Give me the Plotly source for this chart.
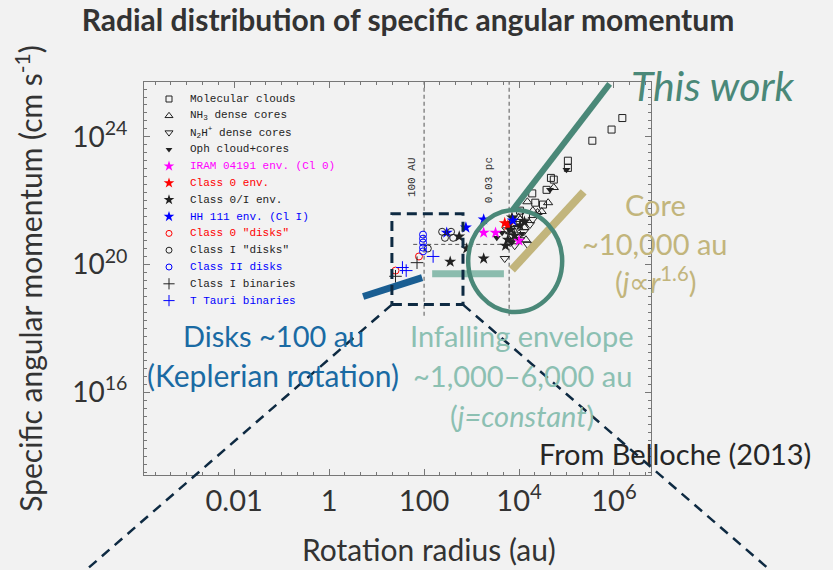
import numpy as np
import plotly.graph_objects as go

# ---------------- data ----------------
# rotation radius r (au) and specific angular momentum j (axis units)
mol_r = [1.5e6, 8.9e5, 3.5e5, 1.07e5, 1.07e5, 5.4e4, 4.7e4, 3.8e4, 1.9e4, 2.2e4, 1.05e4, 3.2e4, 1.4e4]
mol_j = [3.9e24, 1.7e24, 7.6e23, 1.8e23, 1.07e23, 4.6e22, 5.2e22, 2.2e22, 1.7e22, 8.7e21, 4.9e21, 7.6e21, 3.4e21]

nh3_r = [5.4e4, 4.1e4, 1.5e4, 3.0e4, 1.95e4, 2.45e4, 1.05e4, 8.1e3, 1.3e4, 6.5e3, 1.4e4, 8.9e3, 9.8e3]
nh3_j = [2.6e22, 8.7e21, 9.3e21, 4.6e21, 4.9e21, 4.3e21, 2.6e21, 1.8e21, 1.45e21, 1.07e21, 6.0e20, 8.1e20, 3.0e21]

n2h_r = [5.0e3, 8.1e3, 1.05e4, 6.5e3, 1.26e4, 7.4e3, 1.7e4, 5.5e3, 1.5e4, 9.3e3, 1.95e4]
n2h_j = [1.55e20, 3.9e20, 6.0e20, 4.9e20, 1.07e21, 7.6e20, 1.8e21, 1.23e21, 4.3e20, 1.45e21, 2.6e21]

oph_r = [1.0e5, 4.5e4, 3.4e3, 4.4e3, 6.2e3, 6.5e3, 7.8e3, 7.1e3, 1.15e4]
oph_j = [9.3e22, 2.2e22, 6.9e20, 1.0e21, 1.23e21, 2.0e21, 3.0e21, 4.9e20, 9.3e20]

iram_r = [1.8e3, 3.2e3, 1.0e4]
iram_j = [1.0e21, 1.0e21, 5.6e20]

c0env_r = [5.0e3, 5.8e3]
c0env_j = [2.0e21, 1.7e21]

c0Ienv_r = [550, 355, 1.8e3, 790, 6.8e3, 8.1e3, 5.8e3, 1.05e4, 5.2e3, 1.3e4, 7.1e3]
c0Ienv_j = [7.6e20, 1.23e20, 1.55e20, 3.2e20, 1.23e21, 8.1e20, 6.0e20, 1.7e21, 3.9e20, 2.2e21, 3.0e21]

hh111_r = [300, 760, 7.4e3, 1.8e3]
hh111_j = [1.0e21, 1.45e21, 2.4e21, 2.6e21]

c0disk_r = [25, 78]
c0disk_j = [6.5e19, 1.8e20]

cIdisk_r = [240, 370, 275, 410, 120]
cIdisk_j = [1.07e21, 1.07e21, 6.9e20, 6.9e20, 3.2e20]

cIIdisk_r = [95, 95, 95, 95, 95]
cIIdisk_j = [8.7e20, 6.5e20, 4.9e20, 3.4e20, 2.6e20]

cIbin_r = [25, 71]
cIbin_j = [4.3e19, 1.15e20]

ttbin_r = [35, 42, 155]
ttbin_j = [8.1e19, 6.5e19, 1.8e20]

# guide lines (r in au, j)
disk_bar_r = [5.2, 91];        disk_bar_j = [1.0e19, 3.9e19]
env_bar_r = [148, 4800];       env_bar_j = [5.2e19, 5.2e19]
core_bar_r = [7100, 2.3e5];    core_bar_j = [6.9e19, 1.9e22]
this_work_r = [7400, 8.1e5];   this_work_j = [5.2e21, 4.6e25]
zoom_box_r = [21, 660];        zoom_box_j = [5.6e18, 3.9e21]
ref_r = [100, 6188]            # 100 AU and 0.03 pc
ref_j = [2.5e18, 1e26]
hline_r = [59, 5000];          hline_j = [4.3e20, 4.3e20]
circle_center = (8300, 1.3e20)

x_tickvals = [1e-2, 1, 1e2, 1e4, 1e6]
x_ticktext = ["0.01", "1", "100", "10<sup>4</sup>", "10<sup>6</sup>"]
y_tickvals = [1e16, 1e20, 1e24]
y_ticktext = ["10<sup>16</sup>", "10<sup>20</sup>", "10<sup>24</sup>"]

# ---------------- layout helpers ----------------
XR = [-3.9, 6.78]
YR = [13.41, 25.72]
PW, PH = 507, 393  # plot area in px


def xp(r):
    return (np.log10(r) - XR[0]) / (XR[1] - XR[0])


def yp(j):
    return (np.log10(j) - YR[0]) / (YR[1] - YR[0])


def r_at(xpaper):
    return 10 ** (XR[0] + xpaper * (XR[1] - XR[0]))


def j_at(ypaper):
    return 10 ** (YR[0] + ypaper * (YR[1] - YR[0]))


BLACK = "#222222"
MAG = "#ff00ff"
RED = "#ff0000"
BLUE = "#0000ff"

series = [
    ("Molecular clouds", mol_r, mol_j, "square-open", BLACK, 7, BLACK),
    ("NH<sub>3</sub> dense cores", nh3_r, nh3_j, "triangle-up-open", BLACK, 8, BLACK),
    ("N<sub>2</sub>H<sup>+</sup> dense cores", n2h_r, n2h_j, "triangle-down-open", BLACK, 8, BLACK),
    ("Oph cloud+cores", oph_r, oph_j, "triangle-down", BLACK, 7, BLACK),
    ("IRAM 04191 env. (Cl 0)", iram_r, iram_j, "star", MAG, 9, MAG),
    ("Class 0 env.", c0env_r, c0env_j, "star", RED, 9, RED),
    ("Class 0/I env.", c0Ienv_r, c0Ienv_j, "star", BLACK, 9, BLACK),
    ("HH 111 env. (Cl I)", hh111_r, hh111_j, "star", BLUE, 9, BLUE),
    ('Class 0 "disks"', c0disk_r, c0disk_j, "circle-open", RED, 7, RED),
    ('Class I "disks"', cIdisk_r, cIdisk_j, "circle-open", BLACK, 7, BLACK),
    ("Class II disks", cIIdisk_r, cIIdisk_j, "circle-open", BLUE, 7, BLUE),
    ("Class I binaries", cIbin_r, cIbin_j, "cross-thin-open", BLACK, 9, BLACK),
    ("T Tauri binaries", ttbin_r, ttbin_j, "cross-thin-open", BLUE, 9, BLUE),
]

fig = go.Figure()

# reference dashed lines of the original figure
for rr in ref_r:
    fig.add_trace(go.Scatter(x=[rr, rr], y=ref_j, mode="lines",
                             line=dict(color="#555", width=1, dash="4px,3px"),
                             hoverinfo="skip", showlegend=False))
fig.add_trace(go.Scatter(x=hline_r, y=hline_j, mode="lines",
                         line=dict(color="#555", width=1, dash="4px,3px"),
                         hoverinfo="skip", showlegend=False))

# data points
for name, rr, jj, sym, col, size, tcol in series:
    filled = not (sym.endswith("open"))
    fig.add_trace(go.Scatter(
        x=rr, y=jj, mode="markers", name=name, showlegend=False,
        marker=dict(symbol=sym, size=size, color=col,
                    line=dict(color=col, width=1 if not filled else 0))))

# legend of the original figure (symbols + coloured text)
LEG_X_SYM = (169 - 144) / PW
LEG_X_TXT = (188 - 144) / PW
LEG_Y0 = (475 - 99) / PH
LEG_DY = 16.8 / PH
for i, (name, rr, jj, sym, col, size, tcol) in enumerate(series):
    ypos = LEG_Y0 - i * LEG_DY
    filled = not (sym.endswith("open"))
    fig.add_trace(go.Scatter(
        x=[r_at(LEG_X_SYM)], y=[j_at(ypos)], mode="markers", showlegend=False,
        hoverinfo="skip",
        marker=dict(symbol=sym, size=size - 1, color=col,
                    line=dict(color=col, width=1 if not filled else 0))))
    fig.add_annotation(x=LEG_X_TXT, y=ypos, xref="paper", yref="paper",
                       text=name, showarrow=False, xanchor="left", yanchor="middle",
                       font=dict(family="Liberation Mono", size=11, color=tcol))

# labels of the reference lines
for rr, lab in zip(ref_r, ["100 AU", "0.03 pc"]):
    fig.add_annotation(x=xp(rr) - 12 / PW, y=(475 - 155) / PH, xref="paper", yref="paper",
                       text=lab, textangle=-90, showarrow=False,
                       font=dict(family="Liberation Mono", size=11, color="#333"))

# highlight bars
DARKBLUE = "#1a5e92"
TEAL_L = "#8bbcae"
KHAKI = "#c2b57c"
TEAL_D = "#4a8878"
NAVY = "#0e2a42"

fig.add_trace(go.Scatter(x=disk_bar_r, y=disk_bar_j, mode="lines",
                         line=dict(color=DARKBLUE, width=7), hoverinfo="skip", showlegend=False))
fig.add_trace(go.Scatter(x=env_bar_r, y=env_bar_j, mode="lines",
                         line=dict(color=TEAL_L, width=7), hoverinfo="skip", showlegend=False))
fig.add_trace(go.Scatter(x=core_bar_r, y=core_bar_j, mode="lines",
                         line=dict(color=KHAKI, width=8), hoverinfo="skip", showlegend=False))
fig.add_trace(go.Scatter(x=this_work_r, y=this_work_j, mode="lines",
                         line=dict(color=TEAL_D, width=6), hoverinfo="skip", showlegend=False))

# zoom box
bx = [zoom_box_r[0], zoom_box_r[1], zoom_box_r[1], zoom_box_r[0], zoom_box_r[0]]
by = [zoom_box_j[0], zoom_box_j[0], zoom_box_j[1], zoom_box_j[1], zoom_box_j[0]]
fig.add_trace(go.Scatter(x=bx, y=by, mode="lines",
                         line=dict(color=NAVY, width=3, dash="10px,6px"),
                         hoverinfo="skip", showlegend=False))

# connector lines leaving the plot
END_Y = (475 - 570) / PH
fig.add_shape(type="line", xref="paper", yref="paper",
              x0=xp(zoom_box_r[0]), y0=yp(zoom_box_j[0]), x1=(86 - 144) / PW, y1=END_Y,
              line=dict(color=NAVY, width=2.5, dash="10px,7px"))
fig.add_shape(type="line", xref="paper", yref="paper",
              x0=xp(zoom_box_r[1]), y0=yp(zoom_box_j[0]), x1=(770 - 144) / PW, y1=END_Y,
              line=dict(color=NAVY, width=2.5, dash="10px,7px"))

# ellipse around the envelope/core transition
cx, cy = xp(circle_center[0]), yp(circle_center[1])
RX, RY = 47 / PW, 51 / PH
fig.add_shape(type="circle", xref="paper", yref="paper",
              x0=cx - RX, x1=cx + RX, y0=cy - RY, y1=cy + RY,
              line=dict(color=TEAL_D, width=4.5))

# slide annotations
FONT = "Lato"


def note(px, py, text, color, size, italic=False):
    fig.add_annotation(x=(px - 144) / PW, y=(475 - py) / PH, xref="paper", yref="paper",
                       text=text, showarrow=False, xanchor="center", yanchor="middle",
                       font=dict(family=FONT, size=size, color=color,
                                 style="italic" if italic else "normal"))


note(712, 85, "This work", TEAL_D, 41, italic=True)
note(655, 204, "Core", KHAKI, 29)
note(655, 243, "~10,000 au", KHAKI, 29)
note(655, 280, "(<i>j</i>∝<i>r</i><sup>1.6</sup>)", KHAKI, 29)
note(273, 335, "Disks ~100 au", "#1a6aa3", 29)
note(273, 375, "(Keplerian rotation)", "#1a6aa3", 30)
note(522, 335, "Infalling envelope", "#8cc0b2", 29)
note(522, 375, "~1,000–6,000 au", "#8cc0b2", 29)
note(522, 415, "(<i>j=constant</i>)", "#8cc0b2", 29)
note(675, 453, "From Belloche (2013)", "#262626", 29)
# x-axis title (offset from the plot centre as on the slide)
note(429, 549, "Rotation radius (au)", "#333", 30)

axis_common = dict(type="log", showgrid=False, zeroline=False, showline=True,
                   linecolor="#777", linewidth=1, mirror="ticks", ticks="inside",
                   ticklen=6, tickcolor="#777", tickwidth=1)

fig.update_layout(
    width=833, height=570,
    margin=dict(l=144, r=182, t=82, b=95),
    paper_bgcolor="#f2f2f2", plot_bgcolor="#f2f2f2",
    title=dict(text="<b>Radial distribution of specific angular momentum</b>",
               x=408 / 833, xanchor="center", y=1 - 20 / 570, yanchor="middle",
               font=dict(family=FONT, size=30, color="#333")),
    xaxis=dict(**axis_common, range=XR, tickvals=x_tickvals, ticktext=x_ticktext,
               tickfont=dict(family=FONT, size=29, color="#333"), ticklabelstandoff=0,
               minor=dict(tickvals=[10 ** (k / 3) for k in range(-11, 21)], ticks="inside",
                          ticklen=3, tickcolor="#777")),
    yaxis=dict(**axis_common, range=YR, tickvals=y_tickvals, ticktext=y_ticktext,
               tickfont=dict(family=FONT, size=28, color="#333"), ticklabelstandoff=10,
               minor=dict(tickvals=[10 ** (k / 4) for k in range(54, 103)], ticks="inside",
                          ticklen=3, tickcolor="#777"),
               title=dict(text="Specific angular momentum (cm s<sup>-1</sup>)", standoff=20,
                          font=dict(family=FONT, size=30, color="#333"))),
    showlegend=False,
)

fig.write_html("out.html")
